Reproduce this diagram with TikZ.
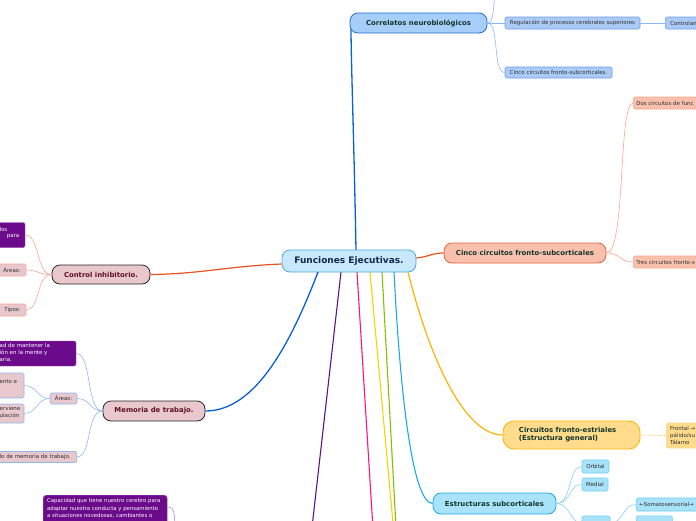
\documentclass[tikz,border=0pt]{standalone}
\usepackage{fontspec}
\setmainfont{DejaVu Sans}
\definecolor{cfill}{HTML}{C8E9FB}
\definecolor{cborder}{HTML}{4DA6E0}
\definecolor{cortext}{HTML}{12352A}
\definecolor{navy}{HTML}{102A4C}
\definecolor{corfill}{HTML}{A7CEF8}
\definecolor{corborder}{HTML}{1F70D8}
\definecolor{bluel}{HTML}{0A5FD6}
\definecolor{regfill}{HTML}{ABCAF6}
\definecolor{regborder}{HTML}{6F9FEA}
\definecolor{reglin}{HTML}{8FB8F0}
\definecolor{cincofill}{HTML}{F9C0AE}
\definecolor{cincoborder}{HTML}{E8613B}
\definecolor{redl}{HTML}{E8521F}
\definecolor{salm}{HTML}{F7A88E}
\definecolor{ctrlfill}{HTML}{E8C8CC}
\definecolor{maroon}{HTML}{5E1025}
\definecolor{purp}{HTML}{6C0A8C}
\definecolor{purpl}{HTML}{5B1380}
\definecolor{purplight}{HTML}{B48FD0}
\definecolor{pinkl}{HTML}{FF1572}
\definecolor{yell}{HTML}{F2D600}
\definecolor{greenl}{HTML}{86BF00}
\definecolor{cyanl}{HTML}{1BA9EA}
\definecolor{cyanlight}{HTML}{84D2F5}
\definecolor{orl}{HTML}{FFB200}
\definecolor{fefill}{HTML}{FFDC8C}
\definecolor{feline}{HTML}{FFD98A}
\definecolor{estfill}{HTML}{A9E3F9}
\definecolor{estborder}{HTML}{6CCDF3}
\definecolor{smalltext}{HTML}{2E2E2E}
\newcommand\fmain{\fontsize{9}{10}\selectfont\bfseries}
\newcommand\fsec{\fontsize{6.9}{8.2}\selectfont\bfseries}
\newcommand\fsmall{\fontsize{5.45}{7}\selectfont}
\begin{document}
\begin{tikzpicture}[x=1pt,y=-1pt,
  bignode/.style={draw, line width=0.8pt, rounded corners=8pt, inner sep=0pt},
  smallbox/.style={draw, line width=0.6pt, rounded corners=1.5pt, inner sep=0pt, font=\fsmall, text=smalltext},
  txt/.style={inner sep=0pt, font=\fsmall},
  thick1/.style={line width=1.3pt},
  thin1/.style={line width=0.6pt}]
\useasboundingbox (0,0) rectangle (696,520);
\clip (0,0) rectangle (696,520);

% off-canvas coordinates
\coordinate (topoff) at (497,-15);
\coordinate (offpurp) at (310,545);
\coordinate (offpink) at (374,545);
\coordinate (offyell) at (395,545);
\coordinate (offgreen) at (397,545);
\coordinate (offbl) at (176,545);

% ---------- main lines from centre (drawn first)
\coordinate (cN) at (356,250);
\draw[bluel, thick1] (cN) .. controls (354,140) and (351,60) .. (351,27);
\draw[purpl, line width=1.1pt] (341,272) -- (offpurp);
\draw[pinkl, line width=1.1pt] (357,272) -- (offpink);
\draw[yell, line width=1.1pt] (370,272) -- (offyell);
\draw[greenl, line width=1.1pt] (382,272) -- (offgreen);

% ---------- nodes
\node[bignode, fill=cfill, draw=cborder, minimum width=134pt, minimum height=22pt, font=\fmain, text=navy] (central) at (349,261) {Funciones Ejecutivas.};

\node[bignode, fill=corfill, draw=corborder, minimum width=137pt, minimum height=20pt, font=\fsec, text=cortext] (correl) at (418.5,23) {Correlatos neurobiológicos};
\node[smallbox, fill=regfill, draw=regborder, minimum width=135pt, minimum height=12pt] (reg) at (572.5,23) {Regulación de procesos cerebrales superiores};
\node[smallbox, fill=regfill, draw=regborder, minimum width=60pt, minimum height=12pt, anchor=west, text width=56pt, align=left] (contr) at (665,23) {\hspace*{3pt}Controlan};
\node[smallbox, fill=regfill, draw=regborder, minimum width=107pt, minimum height=11pt] (cincoc) at (558.5,72.5) {Cinco circuitos fronto-subcorticales.};

\node[bignode, fill=cincofill, draw=cincoborder, minimum width=162pt, minimum height=20pt, font=\fsec, text=cortext] (cinco) at (525,253) {Cinco circuitos fronto-subcorticales};
\node[smallbox, fill=cincofill, draw=salm, minimum height=12pt, anchor=west, text width=80pt, align=left] (dos) at (633,103) {\hspace*{3pt}Dos circuitos de func};
\node[smallbox, fill=cincofill, draw=salm, minimum height=12pt, anchor=west, text width=80pt, align=left] (tres) at (633,262) {\hspace*{3pt}Tres circuitos fronto-s};

\node[bignode, fill=ctrlfill, draw=black!85, minimum width=98pt, minimum height=19pt, font=\fsec, text=maroon] (ctrl) at (101,274.5) {Control inhibitorio.};
\node[draw=purp!70, fill=purp, rounded corners=2pt, minimum width=60pt, minimum height=25pt, inner sep=0pt] (purp1) at (-5,235) {};
\node[txt, text=white, anchor=east] (purp1a) at (7.5,229) {los};
\node[txt, text=white, anchor=east] (purp1b) at (19.5,237) {para};
\node[smallbox, fill=ctrlfill, draw=salm, minimum width=30pt, minimum height=12pt] (areas1) at (11,270) {\hspace*{2pt}Áreas:};
\node[smallbox, fill=ctrlfill, draw=salm, minimum width=30pt, minimum height=12pt] (tipos) at (11,310) {\hspace*{3pt}Tipos:};

\node[bignode, fill=ctrlfill, draw=black!85, minimum width=102pt, minimum height=20pt, font=\fsec, text=maroon] (mem) at (154,411) {Memoria de trabajo.};
\node[draw=purp!70, fill=purp, rounded corners=2pt, minimum width=110pt, minimum height=25pt, inner sep=0pt] (purp2) at (21,353.5) {};
\node[txt, text=white, anchor=north west, align=left] (purp2t) at (-0.5,343.5) {ad de mantener la\\ión en la mente y\\aria.};
\node[smallbox, fill=ctrlfill, draw=reglin, minimum width=27pt, minimum height=11pt] (areas2) at (63.5,398.5) {Áreas:};
\node[smallbox, fill=ctrlfill, draw=reglin, minimum width=50pt, minimum height=25pt] (boxA) at (-1,385.5) {};
\node[txt, text=smalltext, anchor=west] (boxAt) at (-0.5,382) {ento e};
\node[smallbox, fill=ctrlfill, draw=reglin, minimum width=50pt, minimum height=19pt] (boxB) at (-1,413.5) {};
\node[txt, text=smalltext, anchor=north west, align=left] (boxBt) at (-0.5,406.5) {erviene\\ulación};
\node[smallbox, fill=ctrlfill, draw=reglin, minimum width=100pt, minimum height=11pt, anchor=east] (membot) at (77,457) {};
\node[txt, text=smalltext, anchor=west] (membott) at (-0.5,457) {lo de memoria de trabajo.};

\node[draw=purp!70, fill=purp, rounded corners=3pt, minimum width=124pt, minimum height=40pt, inner sep=0pt, anchor=north west] (purp3) at (43,495) {};
\node[txt, text=white, anchor=north west, align=left, font=\fontsize{5.35}{7.6}\selectfont] (purp3t) at (47,498.5) {Capacidad que tiene nuestro cerebro para\\adaptar nuestra conducta y pensamiento\\a situaciones novedosas, cambiantes o};

\node[bignode, rounded corners=11pt, fill=fefill, draw=orl, minimum width=137pt, minimum height=28pt, font=\fsec, text=cortext, align=left] (fe) at (571.5,435) {Circuitos fronto-estriales\\(Estructura general)\hspace*{26pt}};
\node[smallbox, fill=fefill, draw=feline, minimum width=50pt, minimum height=25pt, anchor=west, rounded corners=2pt] (frontal) at (666,435.5) {};
\node[txt, text=smalltext, anchor=north west, align=left, font=\fontsize{5.45}{6.9}\selectfont] (frontalt) at (670,426) {Frontal →\\pálido/su\\Tálamo};

\node[bignode, fill=estfill, draw=cyanl, minimum width=123pt, minimum height=21pt, font=\fsec, text=cortext] (estr) at (494.5,503.5) {Estructuras subcorticales};
\node[smallbox, fill=estfill, draw=estborder, minimum width=27pt, minimum height=13pt] (orb) at (595.5,466.5) {Orbital};
\node[smallbox, fill=estfill, draw=estborder, minimum width=26pt, minimum height=13pt] (med) at (595,484.5) {Medial};
\node[smallbox, fill=estfill, draw=estborder, minimum width=28pt, minimum height=14pt] (third) at (596,523) {};
\node[smallbox, fill=estfill, draw=estborder, minimum width=70pt, minimum height=13pt, anchor=west, text width=66pt, align=left] (somato) at (636,504.5) {\hspace*{1pt}←Somatosensorial→};
\node[smallbox, fill=estfill, draw=estborder, minimum width=36pt, minimum height=14pt, anchor=north west] (lower) at (636,515.5) {};

% ---------- connectors
\draw[redl, line width=1.2pt] (central.east) ++(0,-3) .. controls (428,257) and (432,253) .. (cinco.west);
\draw[redl, line width=1.2pt] (central.west) ++(0,3) .. controls (230,266) and (200,274) .. (ctrl.east);
\draw[bluel, thick1] (318,272) .. controls (290,345) and (255,411) .. (mem.east);
\draw[orl, line width=1.2pt] (408,272) .. controls (430,360) and (465,435) .. (fe.west);
\draw[cyanl, line width=1.1pt] (394,272) .. controls (400,390) and (412,503) .. (estr.west);

\draw[reglin, thin1] (correl.east) .. controls (495,23) and (492,5) .. (topoff);
\draw[reglin, thin1] (correl.east) -- (reg.west);
\draw[reglin, thin1] (correl.east) .. controls (500,23) and (492,72.5) .. (cincoc.west);
\draw[reglin, thin1] (reg.east) -- (contr.west);

\draw[salm, thin1] (cinco.east) .. controls (626,253) and (618,103) .. (dos.west);
\draw[salm, thin1] (cinco.east) .. controls (620,253) and (620,262) .. (tres.west);

\draw[salm, thin1] (ctrl.west) .. controls (36,275) and (40,235) .. (purp1.east);
\draw[salm, thin1] (ctrl.west) .. controls (40,275) and (38,270) .. (areas1.east);
\draw[salm, thin1] (ctrl.west) .. controls (36,275) and (40,310) .. (tipos.east);

\draw[reglin, thin1] (mem.west) .. controls (86,411) and (92,353) .. (purp2.east);
\draw[reglin, thin1] (mem.west) .. controls (90,411) and (90,398.5) .. (areas2.east);
\draw[reglin, thin1] (mem.west) .. controls (86,411) and (92,457) .. (membot.east);
\draw[reglin, thin1] (areas2.west) .. controls (37,398.5) and (37,385.5) .. (boxA.east);
\draw[reglin, thin1] (areas2.west) .. controls (37,398.5) and (37,413.5) .. (boxB.east);

\draw[purplight, thin1] (purp3.east |- 0,507) .. controls (176,507) and (174,515) .. (offbl);

\draw[feline, thin1] (fe.east) -- (frontal.west);

\draw[cyanlight, thin1] (estr.east) .. controls (572,503.5) and (568,466.5) .. (orb.west);
\draw[cyanlight, thin1] (estr.east) .. controls (572,503.5) and (568,484.5) .. (med.west);
\draw[cyanlight, thin1] (estr.east) .. controls (570,503.5) and (570,523) .. (third.west);
\draw[cyanlight, thin1] (third.east) .. controls (624,523) and (622,504.5) .. (somato.west);
\draw[cyanlight, thin1] (third.east) -- (lower.west |- third.east);
\end{tikzpicture}
\end{document}
